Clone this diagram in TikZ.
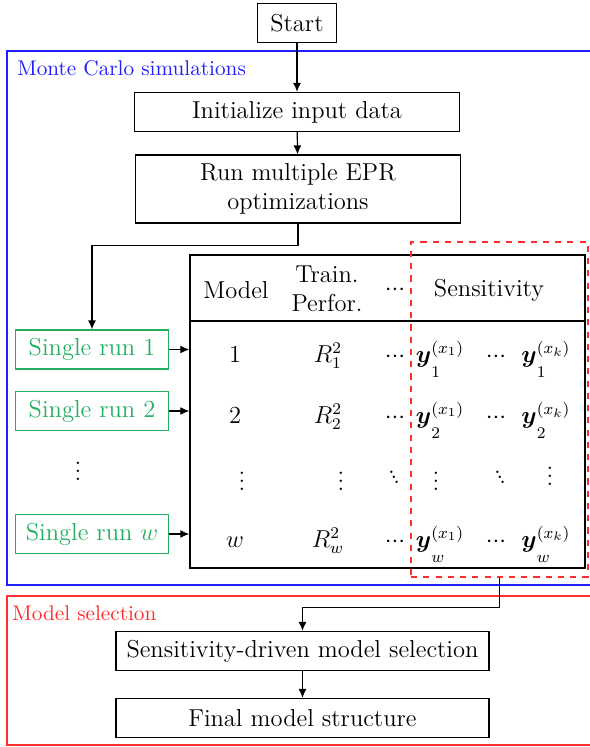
\documentclass[12pt,tikz,border=0pt]{standalone}
\usepackage{amsmath}
\usetikzlibrary{positioning, arrows.meta}
\definecolor{runcol}{RGB}{35, 175, 95}
\definecolor{mcblue}{RGB}{30, 30, 255}
\definecolor{selred}{RGB}{255, 45, 45}

% compact dots for the table
\newcommand{\tdots}{{\cdot}{\cdot}{\cdot}}
\newcommand{\tddots}{\mathinner{\raise5pt\hbox{.}\mkern-3mu\raise2.5pt\hbox{.}\mkern-3mu\hbox{.}}}
\newcommand{\ysens}[2]{\boldsymbol{y}^{(x_{#1})}_{\raisebox{-4.5pt}{$\scriptstyle #2$}}}

\begin{document}
\begin{tikzpicture}[
    x=0.49pt, y=-0.49pt,
    box/.style={rectangle, draw, semithick, minimum height=19.1pt,
                align=center, inner sep=2pt},
    runbox/.style={box, draw=runcol, text=runcol, minimum width=75pt},
    cell/.style={anchor=base, inner sep=0pt},
    stagelabel/.style={anchor=west, inner sep=0pt, font=\fontsize{10.4}{12}\selectfont},
    arrow/.style={->, semithick, >={Latex[length=4.4pt, width=3.9pt]}}
  ]
    \useasboundingbox (0,0) rectangle (590,747);

    % frames of the two stages
    \draw[mcblue, semithick] (7,51) rectangle (610,585);
    \draw[selred, semithick] (7,596) rectangle (610,745);
    \node[stagelabel, text=mcblue] (mclabel) at (17,68) {Monte Carlo simulations};
    \node[stagelabel, text=selred] (sellabel) at (12,613) {Model selection};

    % main flow
    \node[box, minimum width=38.7pt] (start) at (297,23) {Start};
    \node[box, minimum width=159.3pt] (init) at (297,112) {Initialize input data};
    \node[box, minimum width=159.3pt, minimum height=33.3pt] (epr) at (298,189)
        {Run multiple EPR\\optimizations};

    % single runs
    \node[runbox] (run1) at (92,349.5) {Single run 1};
    \node[runbox] (run2) at (92,411) {Single run 2};
    \node (rundots) at (78,465) {$\vdots$};
    \node[runbox] (runw) at (92,534) {Single run $w$};

    % results table
    \node[draw, semithick, minimum width=193.6pt, minimum height=153.4pt] (tab) at (387.5,411.5) {};
    \draw[semithick] (tab.west |- 0,321) -- (tab.east |- 0,321);
    \node (hmod) at (236,290) {Model};
    \node[align=center] (htrain) at (327,289) {Train.\\Perfor.};
    \node (hdots) at (395,290) {$\tdots$};
    \node (hsens) at (489,290) {Sensitivity};

    \foreach \row/\yy in {1/362, 2/423, w/547} {
      \node[cell] (m\row)  at (235,\yy) {$\row$};
      \node[cell] (r\row)  at (328,\yy) {$R^2_{\row}$};
      \node[cell] (d\row)  at (395,\yy) {$\tdots$};
      \node[cell] (sa\row) at (440,\yy) {$\ysens{1}{\row}$};
      \node[cell] (dd\row) at (496,\yy) {$\tdots$};
      \node[cell] (sk\row) at (546,\yy) {$\ysens{k}{\row}$};
    }
    \node (vm)  at (242,475) {$\vdots$};
    \node (vr)  at (341,475) {$\vdots$};
    \node (vd)  at (394,477) {$\tddots$};
    \node (va)  at (436,475) {$\vdots$};
    \node (vdd) at (500,477) {$\tddots$};
    \node (vk)  at (550,470) {$\vdots$};

    % sensitivity block
    \node[draw=selred, semithick, dashed, minimum width=86.7pt, minimum height=164.2pt] (sens)
        at (499.5,409.5) {};

    % model selection
    \node[box, minimum width=182.8pt] (select) at (302.5,651) {Sensitivity-driven model selection};
    \node[box, minimum width=182.8pt] (final) at (302.5,718) {Final model structure};

    \draw[arrow] (start) -- (init);
    \draw[arrow] (init) -- (epr);
    \draw[arrow] (epr.south) -- ++(0,22) -| (run1.north);
    \draw[arrow] (run1) -- (run1 -| tab.west);
    \draw[arrow] (run2) -- (run2 -| tab.west);
    \draw[arrow] (runw) -- (runw -| tab.west);
    \draw[arrow] (sens.south) -- ++(0,30) -| (select.north);
    \draw[arrow] (select) -- (final);
  \end{tikzpicture}
\end{document}
